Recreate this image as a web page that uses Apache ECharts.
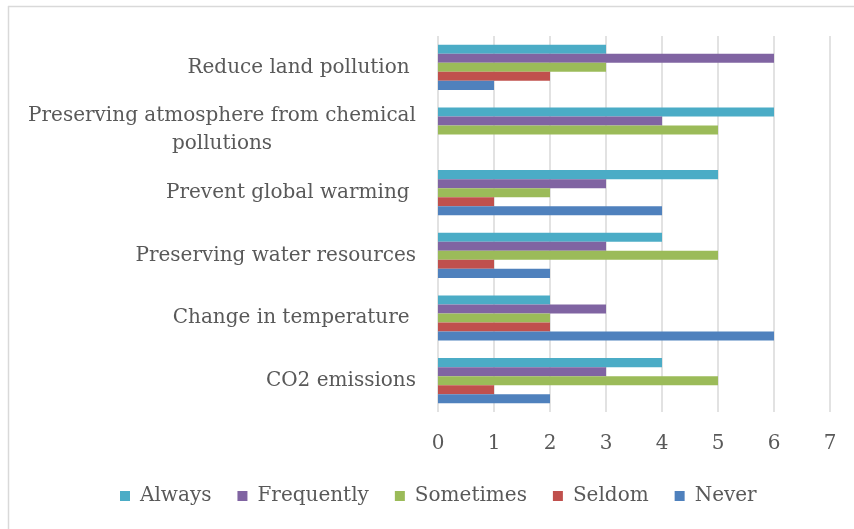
<!DOCTYPE html>
<html>
<head>
<meta charset="utf-8">
<script src="https://cdn.jsdelivr.net/npm/echarts@6/dist/echarts.min.js"></script>
<style>
html,body{margin:0;padding:0;background:#fff;}
#chart{width:854px;height:529px;}
</style>
</head>
<body>
<div id="chart"></div>
<script>
const categories = ["CO2 emissions", "Change in temperature ", "Preserving water resources", "Prevent global warming ", "Preserving atmosphere from chemical\npollutions", "Reduce land pollution "];
const never      = [2, 6, 2, 4, 0, 1];
const seldom     = [1, 2, 1, 1, 0, 2];
const sometimes  = [5, 2, 5, 2, 5, 3];
const frequently = [3, 3, 3, 3, 4, 6];
const always     = [4, 2, 4, 5, 6, 3];
const seriesNames = ["Always", "Frequently", "Sometimes", "Seldom", "Never"];
const legendOrder = ["Always", "Frequently", "Sometimes", "Seldom", "Never"];
const colors = { Never: "#4f81bd", Seldom: "#c0504d", Sometimes: "#9bbb59", Frequently: "#8064a2", Always: "#4bacc6" };
const values = { Never: never, Seldom: seldom, Sometimes: sometimes, Frequently: frequently, Always: always };

const FONT = "'DejaVu Serif', serif";
const FS = 20;
const chart = echarts.init(document.getElementById('chart'), null, { renderer: 'canvas' });

chart.setOption({
  animation: false,
  backgroundColor: '#fff',
  textStyle: { fontFamily: FONT },
  grid: { left: 438, right: 24, top: 36, bottom: 117, containLabel: false },
  legend: {
    data: legendOrder,
    top: 481,
    left: 115,
    itemWidth: 10,
    itemHeight: 10,
    itemGap: 26,
    icon: 'rect',
    textStyle: { fontFamily: FONT, fontSize: FS, color: '#595959', padding: [0, 0, 0, 5] }
  },
  xAxis: {
    type: 'value',
    min: 0, max: 7, interval: 1,
    axisLine: { show: false },
    axisTick: { show: false },
    splitLine: { lineStyle: { color: '#d9d9d9', width: 1.5 } },
    axisLabel: { fontFamily: FONT, fontSize: FS, color: '#595959', margin: 22 }
  },
  yAxis: {
    type: 'category',
    data: categories,
    axisLine: { show: false },
    axisTick: { show: false },
    axisLabel: {
      fontFamily: FONT, fontSize: FS, color: '#595959', margin: 22, lineHeight: 28,
      formatter: function (v) {
        if (v.indexOf('\n') >= 0) {
          return v.split('\n').map(s => '{c|' + s + '}').join('\n');
        }
        return v;
      },
      rich: { c: { fontFamily: FONT, fontSize: FS, color: '#595959', width: 388, align: 'center', lineHeight: 28 } }
    }
  },
  series: seriesNames.map(n => ({
    name: n,
    type: 'bar',
    data: values[n],
    barGap: '0%',
    barCategoryGap: '28%',
    itemStyle: { color: colors[n] }
  })),
  graphic: [
    { type: 'line', shape: { x1: 8, y1: 6.5, x2: 854, y2: 6.5 }, style: { stroke: '#d9d9d9', lineWidth: 1.5 } },
    { type: 'line', shape: { x1: 8.5, y1: 6, x2: 8.5, y2: 529 }, style: { stroke: '#d9d9d9', lineWidth: 1.5 } }
  ]
});
</script>
</body>
</html>
